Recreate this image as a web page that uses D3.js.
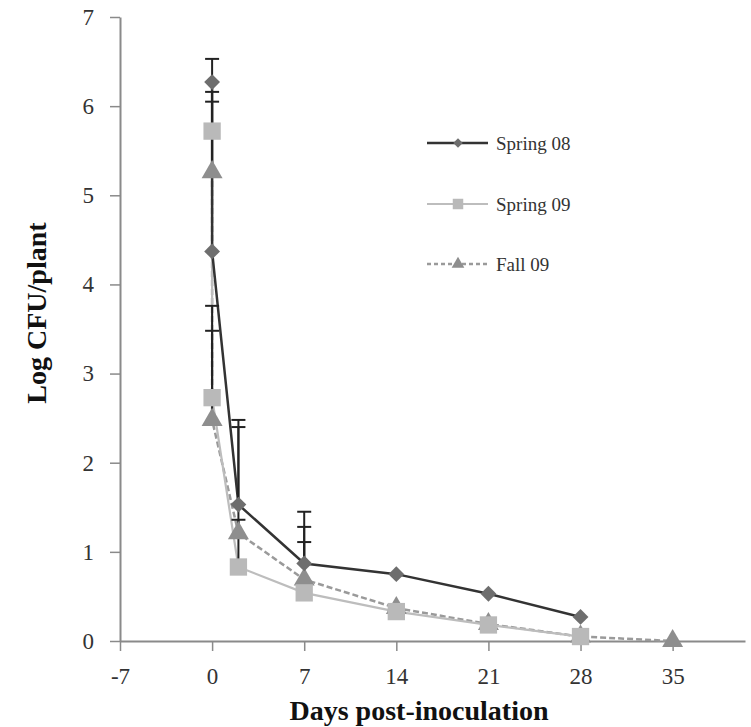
<!DOCTYPE html>
<html>
<head>
<meta charset="utf-8">
<script src="https://cdn.jsdelivr.net/npm/d3@7"></script>
<style>
body { margin: 0; background: #fff; }
svg text { font-family: "Liberation Serif", "Times New Roman", serif; fill: #333; }
</style>
</head>
<body>
<script>
// values (log CFU per plant)
var seriesNames = ["Spring 08", "Spring 09", "Fall 09"];
var s08Days = [0, 0, 2, 7, 14, 21, 28];
var s08Vals = [6.27, 4.37, 1.53, 0.87, 0.75, 0.53, 0.27];
var s08Err  = [0.26, 0, 0.95, 0.58, 0, 0, 0];
var s09Days = [0, 0, 2, 7, 14, 21, 28];
var s09Vals = [5.72, 2.73, 0.83, 0.54, 0.33, 0.18, 0.05];
var s09Err  = [0.33, 1.03, 0.53, 0.57, 0, 0, 0];
var f09Days = [0, 0, 2, 7, 14, 21, 28, 35];
var f09Vals = [5.26, 2.48, 1.21, 0.69, 0.37, 0.19, 0.05, 0.0];
var f09Err  = [0.9, 1.0, 1.19, 0.59, 0, 0, 0, 0];
var xTicks = [-7, 0, 7, 14, 21, 28, 35];
var yTicks = [0, 1, 2, 3, 4, 5, 6, 7];

var width = 751, height = 727;

var svg = d3.select("body").append("svg")
    .attr("width", width)
    .attr("height", height);

var x = d3.scaleLinear().domain([-7, 40.5]).range([120, 745]);
var y = d3.scaleLinear().domain([0, 7]).range([641, 17]);

// plain hyphen for negatives, like the original
var fmt = function(d) { return String(d); };

//axes
var yAxis = svg.append("g")
    .attr("transform", "translate(120,0)")
    .call(d3.axisLeft(y).tickValues(yTicks).tickFormat(fmt).tickSize(10).tickSizeOuter(0).tickPadding(16));
var xAxis = svg.append("g")
    .attr("transform", "translate(0,641)")
    .call(d3.axisBottom(x).tickValues(xTicks).tickFormat(fmt).tickSize(10).tickSizeOuter(0).tickPadding(13));

[xAxis, yAxis].forEach(function(g) {
    g.select(".domain").attr("stroke", "#8a8a8a").attr("stroke-width", 2);
    g.selectAll(".tick line").attr("stroke", "#8a8a8a").attr("stroke-width", 1.5);
    g.selectAll(".tick text")
        .attr("fill", "#333")
        .style("font-family", "Liberation Serif")
        .style("font-size", "23px");
});
xAxis.selectAll(".tick text").attr("dy", "0.85em");

//axis titles
svg.append("text")
    .attr("x", 419).attr("y", 720)
    .attr("text-anchor", "middle")
    .style("font-size", "28px").style("font-weight", "bold").style("fill", "#111")
    .text("Days post-inoculation");
svg.append("text")
    .attr("transform", "translate(46,313) rotate(-90)")
    .attr("text-anchor", "middle")
    .style("font-size", "28px").style("font-weight", "bold").style("fill", "#111")
    .text("Log CFU/plant");

var series = [
    {name: seriesNames[0], days: s08Days, vals: s08Vals, err: s08Err,
     line: "#333", width: 2.5, dash: null, fill: "#6e6e6e", shape: d3.symbolSquare, rot: 45, size: 125, legSize: 45},
    {name: seriesNames[1], days: s09Days, vals: s09Vals, err: s09Err,
     line: "#bdbdbd", width: 2.2, dash: null, fill: "#b9b9b9", shape: d3.symbolSquare, rot: 0, size: 300, legSize: 110},
    {name: seriesNames[2], days: f09Days, vals: f09Vals, err: f09Err,
     line: "#9a9a9a", width: 2.5, dash: "6,3", fill: "#8e8e8e", shape: d3.symbolTriangle, rot: 0, size: 190, legSize: 70}
];

var line = d3.line()
    .x(function(d) { return x(d[0]); })
    .y(function(d) { return y(d[1]); });

//lines
series.slice().reverse().forEach(function(s) {
    var pts = s.days.map(function(d, i) { return [d, s.vals[i]]; });
    svg.append("path")
        .datum(pts)
        .attr("fill", "none")
        .attr("stroke", s.line)
        .attr("stroke-width", s.width)
        .attr("stroke-dasharray", s.dash)
        .attr("d", line);
});

//error bars (plus direction only)
series.forEach(function(s) {
    var bars = s.days.map(function(d, i) { return {d: d, v: s.vals[i], e: s.err[i]}; })
        .filter(function(b) { return b.e > 0; });
    var g = svg.append("g").attr("stroke", "#222").attr("stroke-width", 2);
    g.selectAll(".eb").data(bars).enter().append("line")
        .attr("x1", function(b) { return x(b.d); })
        .attr("x2", function(b) { return x(b.d); })
        .attr("y1", function(b) { return y(b.v); })
        .attr("y2", function(b) { return y(b.v + b.e); });
    g.selectAll(".cap").data(bars).enter().append("line")
        .attr("x1", function(b) { return x(b.d) - 7; })
        .attr("x2", function(b) { return x(b.d) + 7; })
        .attr("y1", function(b) { return y(b.v + b.e); })
        .attr("y2", function(b) { return y(b.v + b.e); });
});

//markers
series.slice().reverse().forEach(function(s) {
    var pts = s.days.map(function(d, i) { return [d, s.vals[i]]; });
    svg.append("g").selectAll("path").data(pts).enter().append("path")
        .attr("d", d3.symbol().type(s.shape).size(s.size))
        .attr("transform", function(d) {
            return "translate(" + x(d[0]) + "," + y(d[1]) + ") rotate(" + s.rot + ")";
        })
        .attr("fill", s.fill);
});

//legend
var legY = [143, 204, 264];
series.forEach(function(s, i) {
    var g = svg.append("g").attr("transform", "translate(0," + legY[i] + ")");
    g.append("line")
        .attr("x1", 427).attr("x2", 488).attr("y1", 0).attr("y2", 0)
        .attr("stroke", s.line).attr("stroke-width", s.width)
        .attr("stroke-dasharray", s.dash ? "4,3" : null);
    g.append("path")
        .attr("d", d3.symbol().type(s.shape).size(s.legSize))
        .attr("transform", "translate(458,0) rotate(" + s.rot + ")")
        .attr("fill", s.fill);
    g.append("text")
        .attr("x", 496).attr("y", 7)
        .style("font-size", "19px")
        .text(s.name);
});
</script>
</body>
</html>
